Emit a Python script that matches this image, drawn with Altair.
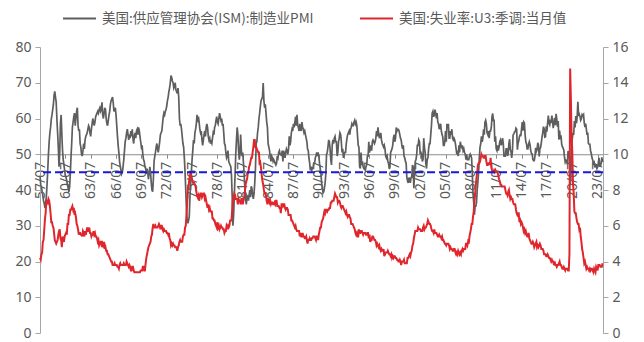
import altair as alt
import pandas as pd

PMI_NAME = "美国:供应管理协会(ISM):制造业PMI"
U3_NAME = "美国:失业率:U3:季调:当月值"

# ISM manufacturing PMI, monthly, from 1957-07
pmi_1950s = [
    44.0, 41.5, 40.8, 39.6, 38.4, 37.0,
    36.2, 35.0, 36.5, 38.0, 41.5, 45.5, 50.0, 53.5, 56.0, 57.5, 59.8, 61.0,
    62.5, 64.0, 66.5, 67.6, 66.0, 64.5, 60.0, 56.0, 52.0, 46.5, 50.5, 58.5,
]
pmi_1960s = [
    61.0, 55.5, 51.0, 48.5, 47.0, 45.5, 44.0, 43.5, 42.5, 41.5, 40.5, 39.5,
    41.0, 44.5, 49.0, 53.0, 57.5, 59.0, 60.5, 61.5, 58.0, 60.0, 62.0, 63.0,
    58.0, 56.5, 57.0, 53.0, 52.0, 50.0, 49.5, 51.0, 53.0, 51.5, 54.0, 55.0,
    55.5, 56.0, 57.0, 58.0, 57.5, 56.0, 55.0, 57.0, 58.5, 60.0, 59.0, 58.0,
    59.0, 60.5, 61.0, 61.5, 62.0, 61.5, 62.5, 63.0, 62.0, 62.5, 64.5, 61.0,
    60.0, 61.5, 63.0, 62.5, 60.0, 58.5, 58.0, 59.5, 61.0, 62.0, 64.0, 65.0,
    65.5, 66.0, 64.5, 62.0, 62.5, 63.0, 61.0, 58.0, 55.0, 52.5, 50.5, 48.0,
    46.5, 45.5, 44.5, 45.0, 46.5, 48.5, 51.0, 53.5, 54.5, 56.0, 57.0, 55.5,
    54.0, 55.5, 54.5, 56.5, 55.0, 57.0, 54.5, 53.0, 55.0, 56.0, 54.5, 56.5,
    57.0, 55.5, 57.5, 56.5, 55.0, 53.5, 52.0, 52.5, 50.0, 48.5, 48.0, 46.5,
]
pmi_1970s = [
    46.0, 44.5, 46.0, 45.0, 43.0, 44.5, 46.5, 45.0, 42.0, 40.0, 39.5, 43.0,
    48.0, 49.5, 50.5, 52.0, 53.0, 51.5, 50.5, 52.0, 53.5, 55.5, 56.0, 56.5,
    58.5, 60.5, 61.5, 61.0, 62.0, 62.5, 63.5, 65.0, 66.0, 67.5, 68.5, 70.0,
    72.0, 71.5, 70.5, 70.0, 68.5, 69.0, 70.0, 68.0, 67.5, 67.0, 68.5, 66.0,
    60.0, 58.0, 58.5, 57.0, 55.0, 53.0, 52.0, 49.0, 45.0, 40.0, 34.5, 31.5,
    30.7, 31.5, 32.5, 38.0, 42.0, 45.0, 48.5, 51.0, 54.0, 53.0, 56.0, 57.0,
    58.5, 61.0, 59.0, 60.5, 59.0, 57.0, 56.0, 56.5, 54.0, 52.5, 54.0, 55.5,
    56.5, 55.0, 57.5, 58.5, 57.5, 55.0, 54.0, 54.5, 53.0, 53.5, 53.0, 54.5,
    56.0, 55.5, 57.5, 58.0, 59.5, 60.5, 59.0, 58.5, 60.0, 61.5, 60.5, 59.5,
    60.0, 58.0, 58.5, 56.0, 53.0, 52.5, 50.5, 49.0, 49.5, 51.0, 48.0, 47.5,
]
pmi_1980s = [
    47.0, 46.5, 44.0, 38.0, 30.0, 33.0, 38.5, 44.0, 50.0, 54.0, 57.5, 55.5,
    51.0, 48.5, 50.0, 55.5, 51.0, 49.5, 50.5, 47.5, 44.0, 40.5, 37.5, 36.0,
    38.0, 38.5, 37.0, 38.5, 40.0, 38.0, 41.0, 40.5, 38.5, 37.5, 39.0, 42.0,
    46.0, 53.0, 53.5, 56.0, 57.5, 60.0, 61.5, 63.5, 65.0, 65.5, 66.0, 69.9,
    65.0, 63.0, 64.0, 61.5, 59.0, 57.5, 53.0, 52.0, 51.0, 49.0, 48.0, 49.5,
    49.0, 48.0, 48.5, 48.0, 47.5, 47.0, 47.5, 49.5, 49.0, 50.5, 51.0, 50.0,
    50.0, 49.5, 51.0, 48.0, 51.0, 50.0, 49.0, 50.5, 51.5, 51.0, 50.0, 51.5,
    55.0, 52.5, 53.5, 56.0, 57.0, 56.5, 58.5, 57.5, 59.0, 60.5, 58.0, 61.0,
    58.0, 57.5, 56.5, 58.5, 57.0, 56.5, 59.0, 57.5, 57.0, 56.0, 56.5, 55.5,
    54.5, 53.5, 51.5, 51.0, 49.0, 47.5, 45.5, 46.5, 45.5, 46.0, 46.5, 47.5,
]
pmi_1990s = [
    47.5, 49.0, 49.5, 50.5, 49.5, 50.5, 49.5, 47.5, 46.0, 44.5, 42.0, 40.5,
    39.2, 39.5, 40.5, 42.0, 44.5, 50.0, 50.5, 52.0, 54.0, 53.5, 51.5, 48.5,
    47.0, 52.5, 54.0, 53.0, 54.5, 55.0, 53.5, 53.5, 49.5, 50.5, 53.5, 54.5,
    56.0, 55.5, 53.5, 50.5, 51.5, 49.0, 50.0, 50.5, 50.5, 53.0, 54.5, 55.5,
    56.0, 56.5, 55.5, 57.0, 57.5, 58.5, 58.0, 58.0, 59.0, 59.5, 58.5, 59.0,
    58.0, 55.0, 52.5, 52.0, 46.5, 46.0, 50.5, 47.0, 48.0, 46.5, 46.0, 46.0,
    45.5, 46.5, 47.0, 49.5, 49.5, 53.5, 50.5, 51.5, 52.5, 51.0, 53.5, 54.0,
    53.5, 53.0, 53.5, 54.5, 56.5, 55.0, 57.5, 56.0, 54.5, 55.0, 56.0, 54.0,
    53.0, 52.5, 52.0, 52.5, 51.5, 49.5, 49.0, 49.5, 48.0, 47.5, 46.0, 46.5,
    50.5, 51.0, 51.5, 52.5, 54.5, 55.5, 53.5, 54.5, 57.5, 56.5, 57.0, 57.0,
]
pmi_2000s = [
    56.5, 55.5, 54.5, 54.0, 52.5, 51.5, 52.5, 49.5, 49.0, 48.0, 47.5, 43.5,
    42.5, 42.0, 43.5, 43.0, 42.0, 43.5, 43.5, 47.0, 46.5, 40.5, 45.0, 48.0,
    48.5, 50.0, 52.5, 52.5, 54.0, 53.5, 50.0, 50.5, 50.0, 48.0, 48.5, 54.5,
    52.0, 50.5, 47.5, 46.0, 48.5, 49.0, 51.5, 53.0, 53.0, 55.5, 58.0, 61.5,
    62.0, 60.5, 61.0, 62.5, 61.5, 60.0, 61.5, 59.0, 58.5, 57.0, 58.0, 58.5,
    56.5, 55.5, 55.0, 52.5, 52.5, 53.5, 56.5, 53.5, 58.5, 57.5, 58.5, 54.5,
    54.5, 56.5, 55.5, 57.0, 54.5, 54.0, 54.5, 54.0, 53.0, 51.5, 50.0, 51.0,
    49.5, 52.5, 50.5, 53.5, 52.5, 52.0, 52.5, 51.0, 51.5, 50.5, 50.0, 48.5,
    50.0, 48.5, 48.5, 48.5, 49.5, 50.0, 49.5, 49.0, 44.5, 39.0, 36.5, 33.1,
    35.5, 35.5, 36.5, 40.0, 42.5, 45.0, 49.0, 52.0, 53.0, 55.0, 53.5, 54.5,
]
pmi_2010s = [
    57.0, 55.5, 59.0, 59.5, 58.5, 56.0, 55.5, 56.5, 54.5, 56.5, 56.5, 57.5,
    60.5, 61.4, 59.5, 59.5, 53.5, 55.0, 51.5, 51.0, 52.5, 51.0, 52.0, 53.5,
    54.0, 52.5, 53.0, 54.5, 53.0, 49.5, 49.5, 49.5, 51.5, 51.5, 49.5, 50.2,
    53.1, 54.2, 51.3, 50.7, 49.0, 50.9, 55.4, 55.7, 56.2, 56.4, 57.3, 57.0,
    51.3, 53.2, 53.7, 54.9, 55.4, 55.3, 57.1, 59.0, 56.6, 59.0, 58.7, 55.5,
    53.5, 52.9, 51.5, 51.5, 52.8, 53.5, 52.7, 51.1, 50.2, 50.1, 48.6, 48.2,
    48.2, 49.5, 51.8, 50.8, 51.3, 53.2, 52.6, 49.4, 51.5, 51.9, 53.2, 54.7,
    56.0, 57.7, 57.2, 54.8, 54.9, 57.8, 56.3, 58.8, 60.8, 58.7, 58.2, 59.3,
    59.1, 60.8, 59.3, 57.3, 58.7, 60.2, 58.1, 61.3, 59.8, 57.7, 59.3, 54.1,
    56.6, 54.2, 55.3, 52.8, 52.1, 51.7, 51.2, 49.1, 47.8, 48.3, 48.1, 47.2,
]
pmi_2020s = [
    50.9, 50.1, 49.1, 41.5, 43.1, 52.6, 54.2, 56.0, 55.4, 59.3, 57.5, 60.7,
    58.7, 60.8, 64.7, 60.7, 61.2, 60.6, 59.5, 59.9, 61.1, 60.8, 61.1, 58.8,
    57.6, 58.6, 57.1, 55.4, 56.1, 53.0, 52.8, 52.8, 50.9, 50.2, 49.0, 48.4,
    47.4, 47.7, 46.3, 47.1, 46.9, 46.0, 46.4, 47.6, 49.0, 46.7, 46.7, 47.4,
    49.1, 47.8,
]

# U3 unemployment rate, seasonally adjusted, monthly, from 1957-07
u3_1950s = [
    4.2, 4.1, 4.4, 4.5, 5.1, 5.2,
    5.8, 6.4, 6.7, 7.4, 7.4, 7.3, 7.5, 7.4, 7.1, 6.7, 6.2, 6.2,
    6.0, 5.9, 5.6, 5.2, 5.1, 5.0, 5.1, 5.2, 5.5, 5.7, 5.8, 5.3,
]
u3_1960s = [
    5.2, 4.8, 5.4, 5.2, 5.1, 5.4, 5.5, 5.6, 5.5, 6.1, 6.1, 6.6,
    6.6, 6.9, 6.9, 7.0, 7.1, 6.9, 7.0, 6.6, 6.7, 6.5, 6.1, 6.0,
    5.8, 5.5, 5.6, 5.6, 5.5, 5.5, 5.4, 5.7, 5.6, 5.4, 5.7, 5.5,
    5.7, 5.9, 5.7, 5.7, 5.9, 5.6, 5.6, 5.4, 5.5, 5.5, 5.7, 5.5,
    5.6, 5.4, 5.4, 5.3, 5.1, 5.2, 4.9, 5.0, 5.1, 5.1, 4.8, 5.0,
    4.9, 5.1, 4.7, 4.8, 4.6, 4.6, 4.4, 4.4, 4.3, 4.2, 4.1, 4.0,
    4.0, 3.8, 3.8, 3.8, 3.9, 3.8, 3.8, 3.8, 3.7, 3.7, 3.6, 3.8,
    3.9, 3.8, 3.8, 3.8, 3.8, 3.9, 3.8, 3.8, 3.8, 4.0, 3.9, 3.8,
    3.7, 3.8, 3.7, 3.5, 3.5, 3.7, 3.7, 3.5, 3.4, 3.4, 3.4, 3.4,
    3.4, 3.4, 3.4, 3.4, 3.4, 3.5, 3.5, 3.5, 3.7, 3.7, 3.5, 3.5,
]
u3_1970s = [
    3.9, 4.2, 4.4, 4.6, 4.8, 4.9, 5.0, 5.1, 5.4, 5.5, 5.9, 6.1,
    5.9, 5.9, 6.0, 5.9, 5.9, 5.9, 6.0, 6.1, 6.0, 5.8, 6.0, 6.0,
    5.8, 5.7, 5.8, 5.7, 5.7, 5.7, 5.6, 5.6, 5.5, 5.6, 5.3, 5.2,
    4.9, 5.0, 4.9, 5.0, 4.9, 4.9, 4.8, 4.8, 4.8, 4.6, 4.8, 4.9,
    5.1, 5.2, 5.1, 5.1, 5.1, 5.4, 5.5, 5.5, 5.9, 6.0, 6.6, 7.2,
    8.1, 8.1, 8.6, 8.8, 9.0, 8.8, 8.6, 8.4, 8.4, 8.4, 8.3, 8.2,
    7.9, 7.7, 7.6, 7.7, 7.4, 7.6, 7.8, 7.8, 7.6, 7.7, 7.8, 7.8,
    7.5, 7.6, 7.4, 7.2, 7.0, 7.2, 6.9, 7.0, 6.8, 6.8, 6.8, 6.4,
    6.4, 6.3, 6.3, 6.1, 6.0, 5.9, 6.2, 5.9, 6.0, 5.8, 5.9, 6.0,
    5.9, 5.9, 5.8, 5.8, 5.6, 5.7, 5.7, 6.0, 5.9, 6.0, 5.9, 6.0,
]
u3_1980s = [
    6.3, 6.3, 6.3, 6.9, 7.5, 7.6, 7.8, 7.7, 7.5, 7.5, 7.5, 7.2,
    7.5, 7.4, 7.4, 7.2, 7.5, 7.5, 7.2, 7.4, 7.6, 7.9, 8.3, 8.5,
    8.6, 8.9, 9.0, 9.3, 9.4, 9.6, 9.8, 9.8, 10.1, 10.4, 10.8, 10.8,
    10.4, 10.4, 10.3, 10.2, 10.1, 10.1, 9.4, 9.5, 9.2, 8.8, 8.5, 8.3,
    8.0, 7.8, 7.8, 7.7, 7.4, 7.2, 7.5, 7.5, 7.3, 7.4, 7.2, 7.3,
    7.3, 7.2, 7.2, 7.3, 7.2, 7.4, 7.4, 7.1, 7.1, 7.1, 7.0, 7.0,
    6.7, 7.2, 7.2, 7.1, 7.2, 7.2, 7.0, 6.9, 7.0, 7.0, 6.9, 6.6,
    6.6, 6.6, 6.6, 6.3, 6.3, 6.2, 6.1, 6.0, 5.9, 6.0, 5.8, 5.7,
    5.7, 5.7, 5.7, 5.4, 5.6, 5.4, 5.4, 5.6, 5.4, 5.4, 5.3, 5.3,
    5.4, 5.2, 5.0, 5.2, 5.2, 5.3, 5.2, 5.2, 5.3, 5.3, 5.4, 5.4,
]
u3_1990s = [
    5.4, 5.3, 5.2, 5.4, 5.4, 5.2, 5.5, 5.7, 5.9, 5.9, 6.2, 6.3,
    6.4, 6.6, 6.8, 6.7, 6.9, 6.9, 6.8, 6.9, 6.9, 7.0, 7.0, 7.3,
    7.3, 7.4, 7.4, 7.4, 7.6, 7.8, 7.7, 7.6, 7.6, 7.3, 7.4, 7.4,
    7.3, 7.1, 7.0, 7.1, 7.1, 7.0, 6.9, 6.8, 6.7, 6.8, 6.6, 6.5,
    6.6, 6.6, 6.5, 6.4, 6.1, 6.1, 6.1, 6.0, 5.9, 5.8, 5.6, 5.5,
    5.6, 5.4, 5.4, 5.8, 5.6, 5.6, 5.7, 5.7, 5.6, 5.5, 5.6, 5.6,
    5.6, 5.5, 5.5, 5.6, 5.6, 5.3, 5.5, 5.1, 5.2, 5.2, 5.4, 5.4,
    5.3, 5.2, 5.2, 5.1, 4.9, 5.0, 4.9, 4.8, 4.9, 4.7, 4.6, 4.7,
    4.6, 4.6, 4.7, 4.3, 4.4, 4.5, 4.5, 4.5, 4.6, 4.5, 4.4, 4.4,
    4.3, 4.4, 4.2, 4.3, 4.2, 4.3, 4.3, 4.2, 4.2, 4.1, 4.1, 4.0,
]
u3_2000s = [
    4.0, 4.1, 4.0, 3.8, 4.0, 4.0, 4.0, 4.1, 3.9, 3.9, 3.9, 3.9,
    4.2, 4.2, 4.3, 4.4, 4.3, 4.5, 4.6, 4.9, 5.0, 5.3, 5.5, 5.7,
    5.7, 5.7, 5.7, 5.9, 5.8, 5.8, 5.8, 5.7, 5.7, 5.7, 5.9, 6.0,
    5.8, 5.9, 5.9, 6.0, 6.1, 6.3, 6.2, 6.1, 6.1, 6.0, 5.8, 5.7,
    5.7, 5.6, 5.8, 5.6, 5.6, 5.6, 5.5, 5.4, 5.4, 5.5, 5.4, 5.4,
    5.3, 5.4, 5.2, 5.2, 5.1, 5.0, 5.0, 4.9, 5.0, 5.0, 5.0, 4.9,
    4.7, 4.8, 4.7, 4.7, 4.6, 4.6, 4.7, 4.7, 4.5, 4.4, 4.5, 4.4,
    4.6, 4.5, 4.4, 4.5, 4.4, 4.6, 4.7, 4.6, 4.7, 4.7, 4.7, 5.0,
    5.0, 4.9, 5.1, 5.0, 5.4, 5.6, 5.8, 6.1, 6.1, 6.5, 6.8, 7.3,
    7.8, 8.3, 8.7, 9.0, 9.4, 9.5, 9.5, 9.6, 9.8, 10.0, 9.9, 9.9,
]
u3_2010s = [
    9.8, 9.8, 9.9, 9.9, 9.6, 9.4, 9.4, 9.5, 9.5, 9.4, 9.8, 9.3,
    9.1, 9.0, 9.0, 9.1, 9.0, 9.1, 9.0, 9.0, 9.0, 8.8, 8.6, 8.5,
    8.3, 8.3, 8.2, 8.2, 8.2, 8.2, 8.2, 8.0, 7.8, 7.8, 7.7, 7.9,
    8.0, 7.7, 7.5, 7.6, 7.5, 7.5, 7.3, 7.2, 7.2, 7.2, 6.9, 6.7,
    6.6, 6.7, 6.7, 6.2, 6.3, 6.1, 6.2, 6.1, 5.9, 5.7, 5.8, 5.6,
    5.7, 5.5, 5.4, 5.4, 5.6, 5.3, 5.2, 5.1, 5.0, 5.0, 5.1, 5.0,
    4.8, 4.9, 5.0, 5.1, 4.8, 4.9, 4.8, 4.9, 5.0, 4.9, 4.7, 4.7,
    4.7, 4.6, 4.4, 4.4, 4.4, 4.3, 4.3, 4.4, 4.3, 4.2, 4.2, 4.1,
    4.0, 4.1, 4.0, 4.0, 3.8, 4.0, 3.8, 3.8, 3.7, 3.8, 3.8, 3.9,
    4.0, 3.8, 3.8, 3.7, 3.6, 3.6, 3.7, 3.6, 3.5, 3.6, 3.6, 3.6,
]
u3_2020s = [
    3.5, 3.5, 4.4, 14.8, 13.2, 11.0, 10.2, 8.4, 7.8, 6.8, 6.7, 6.7,
    6.4, 6.2, 6.1, 6.1, 5.8, 5.9, 5.4, 5.1, 4.7, 4.5, 4.2, 3.9,
    4.0, 3.8, 3.6, 3.7, 3.6, 3.6, 3.5, 3.6, 3.5, 3.6, 3.6, 3.5,
    3.4, 3.6, 3.5, 3.4, 3.7, 3.6, 3.5, 3.8, 3.8, 3.8, 3.7, 3.7,
    3.7, 3.9,
]

pmi_values = (pmi_1950s + pmi_1960s + pmi_1970s + pmi_1980s
              + pmi_1990s + pmi_2000s + pmi_2010s + pmi_2020s)
u3_values = (u3_1950s + u3_1960s + u3_1970s + u3_1980s
             + u3_1990s + u3_2000s + u3_2010s + u3_2020s)

threshold = [45]
tick_years = list(range(1957, 2024, 3))

GRAY = "#5e5e5e"
RED = "#e0262d"
BLUE = "#1a1ad6"
AXIS_GRAY = "#a6a6a6"
LABEL = "#595959"

W, H = 563, 286


def monthly(values, name):
    return pd.DataFrame({
        "date": pd.date_range("1957-07-01", periods=len(values), freq="MS"),
        "value": values,
        "series": name,
    })


pmi_df = monthly(pmi_values, PMI_NAME)
u3_df = monthly(u3_values, U3_NAME)

x_enc = alt.X(
    "date:T",
    scale=alt.Scale(domain=[alt.DateTime(year=1957, month=7, date=1),
                            alt.DateTime(year=2024, month=2, date=20)]),
    axis=alt.Axis(
        values=[alt.DateTime(year=y, month=7, date=1) for y in tick_years],
        format="%y/%m",
        labelAngle=270,
        title=None,
        grid=False,
        offset=-H * 50 / 80,
        domainColor="#8c8c8c",
        tickColor="#8c8c8c",
        tickSize=4,
        labelPadding=3,
        labelFont="Noto Sans",
        labelFontSize=14,
        labelColor=LABEL,
        labelFlush=False,
        labelOverlap=False,
    ),
)

color_enc = alt.Color(
    "series:N",
    scale=alt.Scale(domain=[PMI_NAME, U3_NAME], range=[GRAY, RED]),
    legend=alt.Legend(title=None),
)

left_axis = alt.Axis(
    orient="left", values=list(range(0, 81, 10)), title=None, grid=False,
    domainColor=AXIS_GRAY, tickColor=AXIS_GRAY, tickSize=5, labelPadding=4,
    labelFont="Noto Sans", labelFontSize=14, labelColor=LABEL,
)
right_axis = alt.Axis(
    orient="right", values=list(range(0, 17, 2)), title=None, grid=False,
    domainColor=AXIS_GRAY, tickColor=AXIS_GRAY, tickSize=5, labelPadding=4,
    labelFont="Noto Sans", labelFontSize=14, labelColor=LABEL,
)

pmi_line = alt.Chart(pmi_df).mark_line(strokeWidth=1.7).encode(
    x=x_enc,
    y=alt.Y("value:Q", scale=alt.Scale(domain=[0, 80], nice=False), axis=left_axis),
    color=color_enc,
)

u3_line = alt.Chart(u3_df).mark_line(strokeWidth=2).encode(
    x=x_enc,
    y=alt.Y("value:Q", scale=alt.Scale(domain=[0, 16], nice=False), axis=right_axis),
    color=color_enc,
)

rule = alt.Chart(pd.DataFrame({"value": threshold})).mark_rule(
    color=BLUE, strokeWidth=2, strokeDash=[8, 4]
).encode(
    y=alt.Y("value:Q", scale=alt.Scale(domain=[0, 80], nice=False), axis=None),
)

chart = (
    alt.layer(pmi_line, u3_line, rule)
    .resolve_scale(y="independent")
    .properties(
        width=W,
        height=H,
        autosize=alt.AutoSizeParams(type="none"),
        padding={"left": 40, "top": 47, "right": 644 - 40 - W, "bottom": 342 - 47 - H},
        background="white",
    )
    .configure_view(stroke=None)
    .configure_legend(
        orient="none",
        legendX=22,
        legendY=-46,
        direction="horizontal",
        symbolType="stroke",
        symbolSize=1089,
        symbolStrokeWidth=2,
        labelFont="Noto Sans CJK SC",
        labelFontSize=13.5,
        labelColor=LABEL,
        labelLimit=400,
        labelOffset=5,
        columnPadding=42,
        padding=0,
    )
)

chart.save("out.html", embed_options={"renderer": "svg", "actions": False})
